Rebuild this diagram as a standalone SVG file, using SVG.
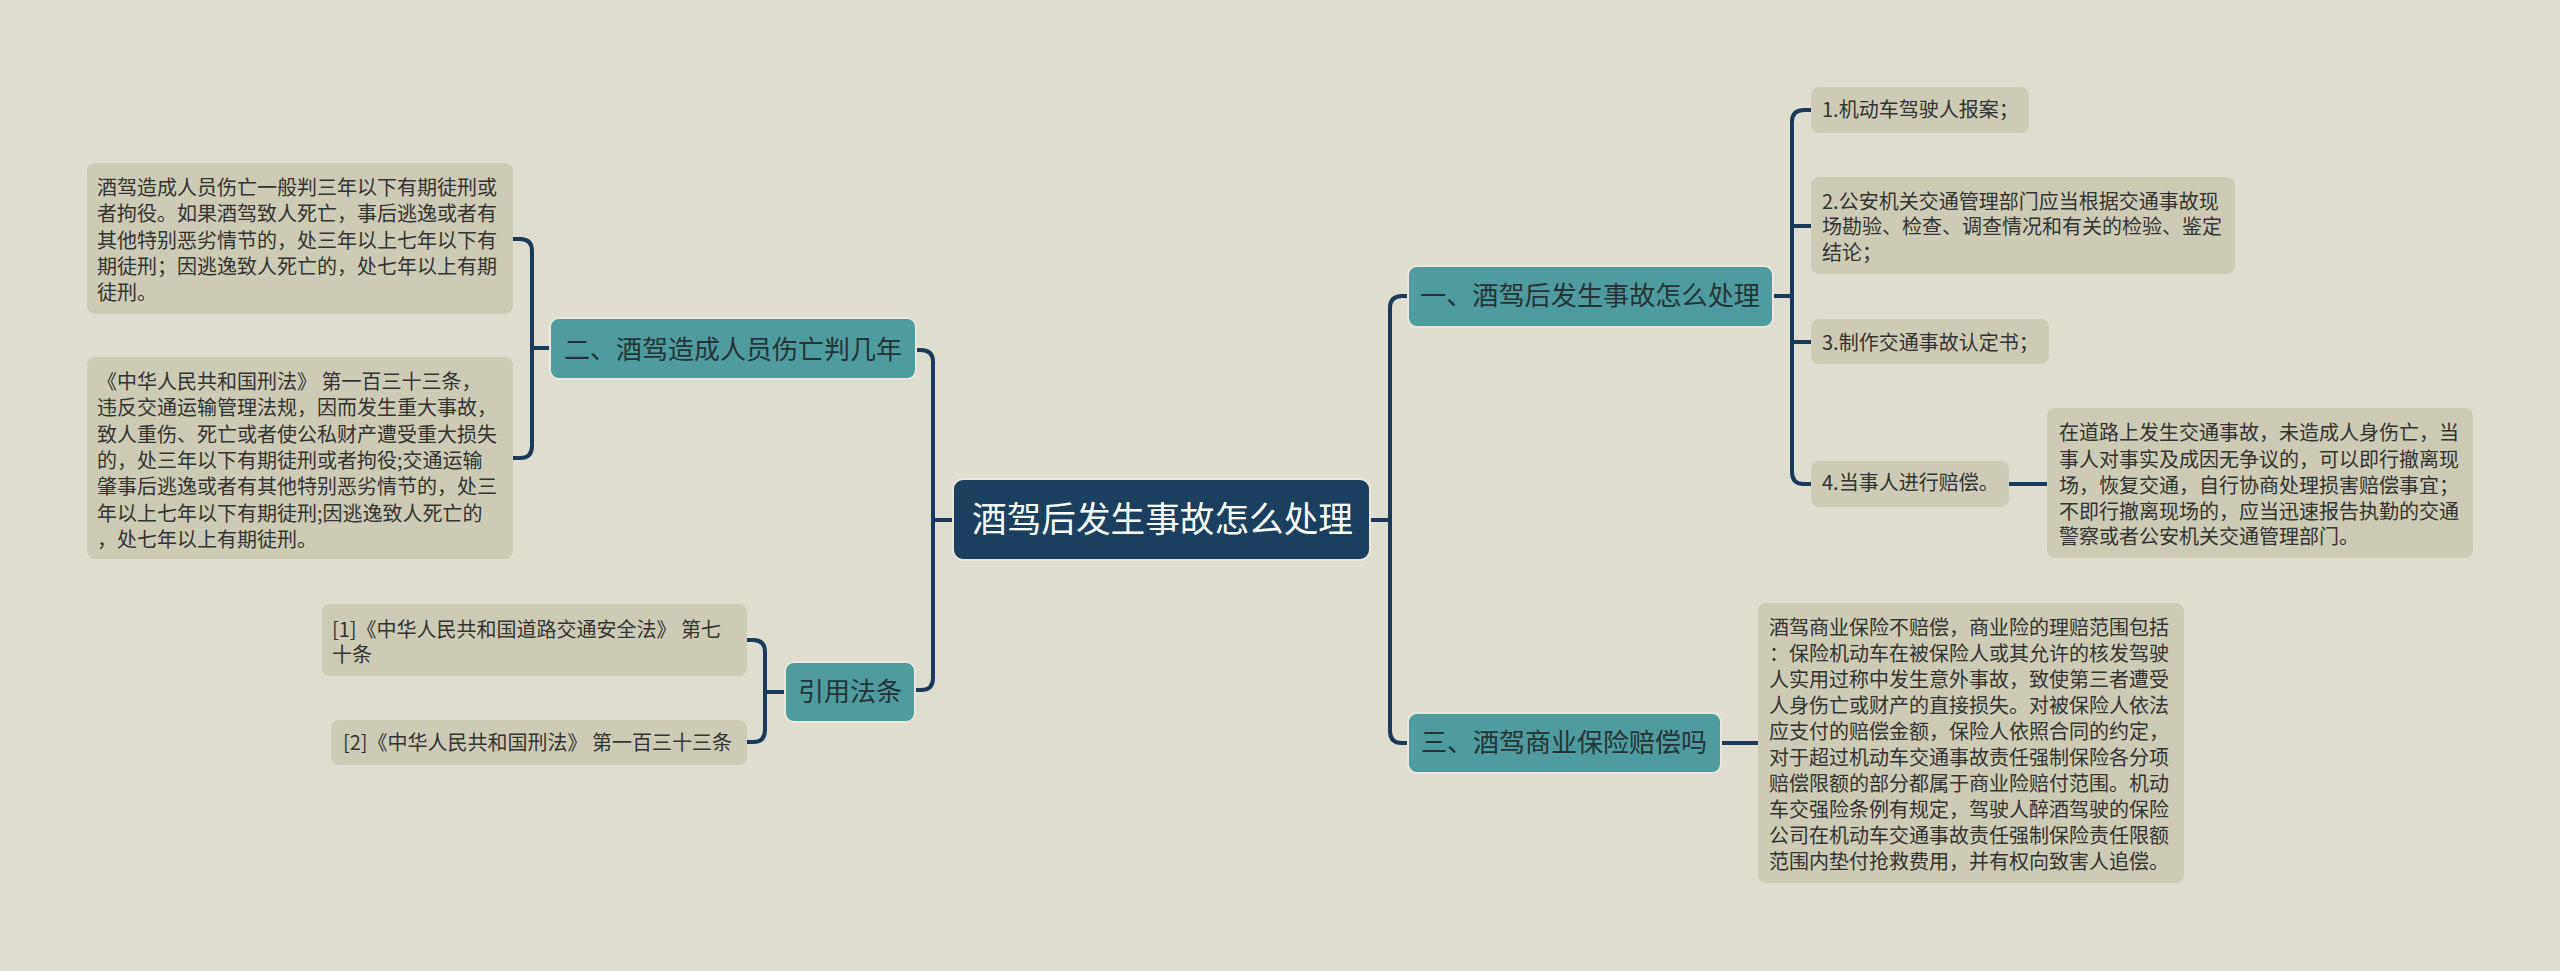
<svg xmlns="http://www.w3.org/2000/svg" width="2560" height="971" viewBox="0 0 2560 971">
<style>
text{font-family:"Noto Sans CJK SC","Noto Sans",sans-serif;}
.leaf{fill:#cdcbb5;}
.lt{font-size:20px;fill:#333333;}
.br{fill:#4e9c9e;stroke:#e9e7dc;stroke-width:2;}
.bt{font-size:26px;fill:#233535;}
.con{fill:none;stroke:#1a3a58;stroke-width:4;stroke-linecap:round;}
</style>
<rect x="0" y="0" width="2560" height="971" fill="#dfddd0"/>
<g id="connectors" class="con">
<path d="M953,520 H933 M915,350 H921 Q933,350 933,362 V678 Q933,690 921,690 H915"/>
<path d="M1370,520 H1390 M1408,296 H1402 Q1390,296 1390,308 V731 Q1390,743 1402,743 H1408"/>
<path d="M550,348 H532 M513,239 H520 Q532,239 532,251 V446 Q532,458 520,458 H513"/>
<path d="M785,692 H765 M747,640 H753 Q765,640 765,652 V730 Q765,742 753,742 H747"/>
<path d="M1773,296 H1792 M1811,110 H1804 Q1792,110 1792,122 V472 Q1792,484 1804,484 H1811 M1792,226 H1811 M1792,342 H1811"/>
<path d="M2009,484 H2047"/>
<path d="M1721,743 H1758"/>
</g>
<g id="root">
<rect x="953" y="479" width="417" height="81" rx="10" fill="#1c3f5f" stroke="#e9e7dc" stroke-width="2"/>
<text x="972" y="532" font-size="35" fill="#ffffff" textLength="381" lengthAdjust="spacingAndGlyphs">酒驾后发生事故怎么处理</text>
</g>
<g id="branch2">
<rect class="br" x="550" y="318" width="366" height="61" rx="9"/>
<text class="bt" x="564" y="359" textLength="338" lengthAdjust="spacingAndGlyphs">二、酒驾造成人员伤亡判几年</text>
</g>
<g id="branchRef">
<rect class="br" x="785" y="662" width="130" height="60" rx="9"/>
<text class="bt" x="850" y="701" text-anchor="middle">引用法条</text>
</g>
<g id="branch1">
<rect class="br" x="1408" y="266" width="365" height="61" rx="9"/>
<text class="bt" x="1420" y="305" textLength="340" lengthAdjust="spacingAndGlyphs">一、酒驾后发生事故怎么处理</text>
</g>
<g id="branch3">
<rect class="br" x="1408" y="713" width="313" height="60" rx="9"/>
<text class="bt" x="1421" y="752" textLength="286" lengthAdjust="spacingAndGlyphs">三、酒驾商业保险赔偿吗</text>
</g>
<g id="leafA">
<rect class="leaf" x="87" y="163" width="426" height="151" rx="8"/>
<text class="lt">
<tspan x="97" y="195">酒驾造成人员伤亡一般判三年以下有期徒刑或</tspan>
<tspan x="97" y="221">者拘役。如果酒驾致人死亡，事后逃逸或者有</tspan>
<tspan x="97" y="247.5">其他特别恶劣情节的，处三年以上七年以下有</tspan>
<tspan x="97" y="274">期徒刑；因逃逸致人死亡的，处七年以上有期</tspan>
<tspan x="97" y="300">徒刑。</tspan>
</text>
</g>
<g id="leafB">
<rect class="leaf" x="87" y="357" width="426" height="202" rx="8"/>
<text class="lt">
<tspan x="97" y="389">《中华人民共和国刑法》 第一百三十三条，</tspan>
<tspan x="97" y="415">违反交通运输管理法规，因而发生重大事故，</tspan>
<tspan x="97" y="441.5">致人重伤、死亡或者使公私财产遭受重大损失</tspan>
<tspan x="97" y="468">的，处三年以下有期徒刑或者拘役;交通运输</tspan>
<tspan x="97" y="494">肇事后逃逸或者有其他特别恶劣情节的，处三</tspan>
<tspan x="97" y="520.5">年以上七年以下有期徒刑;因逃逸致人死亡的</tspan>
<tspan x="97" y="547">，处七年以上有期徒刑。</tspan>
</text>
</g>
<g id="ref1">
<rect class="leaf" x="322" y="604" width="425" height="72" rx="8"/>
<text class="lt">
<tspan x="332" y="637">[1]《中华人民共和国道路交通安全法》 第七</tspan>
<tspan x="332" y="662">十条</tspan>
</text>
</g>
<g id="ref2">
<rect class="leaf" x="331" y="720" width="416" height="45" rx="8"/>
<text class="lt" x="343" y="750">[2]《中华人民共和国刑法》 第一百三十三条</text>
</g>
<g id="leaf1">
<rect class="leaf" x="1811" y="87" width="218" height="46" rx="8"/>
<text class="lt" x="1822" y="117">1.机动车驾驶人报案；</text>
</g>
<g id="leaf2">
<rect class="leaf" x="1811" y="177" width="424" height="97" rx="8"/>
<text class="lt">
<tspan x="1822" y="209">2.公安机关交通管理部门应当根据交通事故现</tspan>
<tspan x="1822" y="234">场勘验、检查、调查情况和有关的检验、鉴定</tspan>
<tspan x="1822" y="260">结论；</tspan>
</text>
</g>
<g id="leaf3">
<rect class="leaf" x="1811" y="319" width="238" height="45" rx="8"/>
<text class="lt" x="1822" y="350">3.制作交通事故认定书；</text>
</g>
<g id="leaf4">
<rect class="leaf" x="1811" y="461" width="198" height="46" rx="8"/>
<text class="lt" x="1822" y="490">4.当事人进行赔偿。</text>
</g>
<g id="leaf4detail">
<rect class="leaf" x="2047" y="408" width="426" height="150" rx="8"/>
<text class="lt">
<tspan x="2059" y="440">在道路上发生交通事故，未造成人身伤亡，当</tspan>
<tspan x="2059" y="467">事人对事实及成因无争议的，可以即行撤离现</tspan>
<tspan x="2059" y="493">场，恢复交通，自行协商处理损害赔偿事宜；</tspan>
<tspan x="2059" y="519">不即行撤离现场的，应当迅速报告执勤的交通</tspan>
<tspan x="2059" y="544">警察或者公安机关交通管理部门。</tspan>
</text>
</g>
<g id="leaf3detail">
<rect class="leaf" x="1758" y="603" width="426" height="280" rx="8"/>
<text class="lt">
<tspan x="1769" y="635">酒驾商业保险不赔偿，商业险的理赔范围包括</tspan>
<tspan x="1769" y="661">：保险机动车在被保险人或其允许的核发驾驶</tspan>
<tspan x="1769" y="687">人实用过称中发生意外事故，致使第三者遭受</tspan>
<tspan x="1769" y="713">人身伤亡或财产的直接损失。对被保险人依法</tspan>
<tspan x="1769" y="739">应支付的赔偿金额，保险人依照合同的约定，</tspan>
<tspan x="1769" y="765">对于超过机动车交通事故责任强制保险各分项</tspan>
<tspan x="1769" y="791">赔偿限额的部分都属于商业险赔付范围。机动</tspan>
<tspan x="1769" y="817">车交强险条例有规定，驾驶人醉酒驾驶的保险</tspan>
<tspan x="1769" y="843">公司在机动车交通事故责任强制保险责任限额</tspan>
<tspan x="1769" y="869">范围内垫付抢救费用，并有权向致害人追偿。</tspan>
</text>
</g>
</svg>
